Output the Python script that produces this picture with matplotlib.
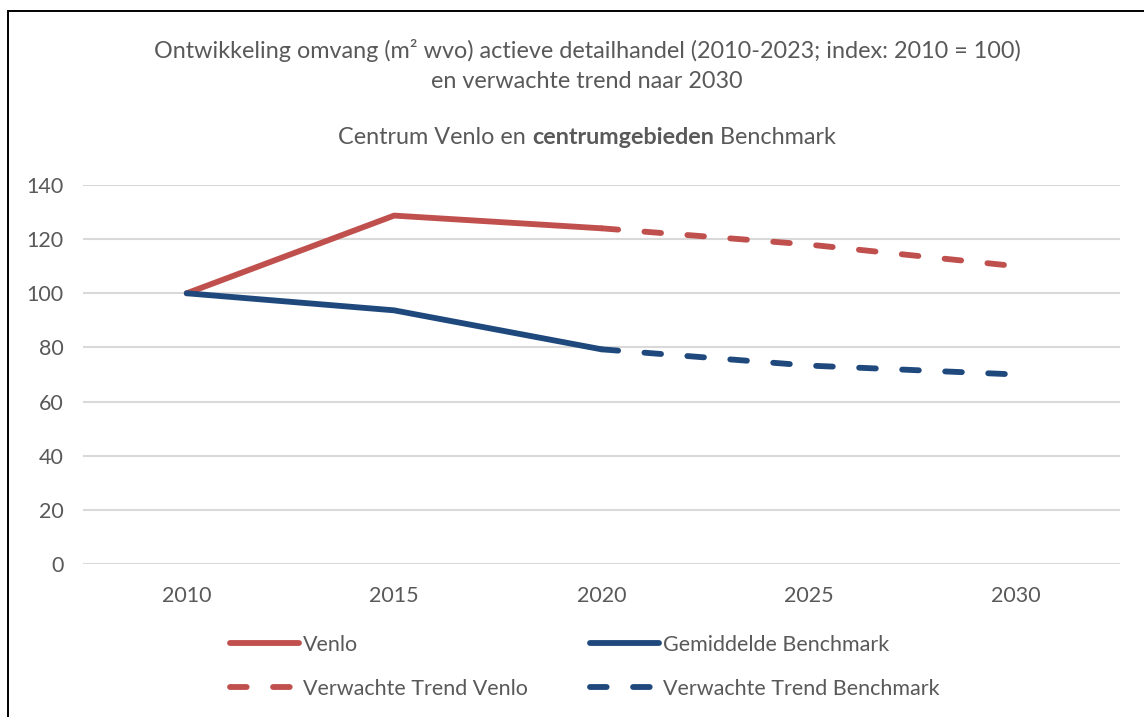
import matplotlib
matplotlib.use('Agg')
import matplotlib.pyplot as plt
from matplotlib.lines import Line2D
from matplotlib.patches import Rectangle

# data
years = ['2010', '2015', '2020', '2025', '2030']
venlo = [100, 128.7, 124.0]
benchmark = [100, 93.7, 79.3]
trend_venlo = [124.0, 118.0, 110.0]
trend_benchmark = [79.3, 73.3, 70.0]

red = '#C0504D'
blue = '#1F497D'
grey = '#595959'

plt.rcParams['font.family'] = ['Lato', 'DejaVu Sans']
plt.rcParams['lines.scale_dashes'] = False

W, H = 1144, 717
fig = plt.figure(figsize=(W / 100, H / 100), dpi=100)

# chart border (black frame, partly cut off at right/bottom)
fig.patches.append(Rectangle((8 / W, -0.1), 1.2, (H - 11) / H + 0.1,
                             transform=fig.transFigure, fill=False,
                             edgecolor='black', linewidth=1.4))

ax = fig.add_axes([83 / W, (H - 564) / H, (1120 - 83) / W, (564 - 185) / H])
x = list(range(len(years)))

lw = 4.2
dash = (0, (12, 19))
ax.plot(x[:3], venlo, color=red, lw=lw, solid_capstyle='round', solid_joinstyle='round', zorder=3)
ax.plot(x[:3], benchmark, color=blue, lw=lw, solid_capstyle='round', solid_joinstyle='round', zorder=3)
ax.plot(x[2:], trend_venlo, color=red, lw=lw, linestyle=dash, dash_capstyle='round', zorder=3)
ax.plot(x[2:], trend_benchmark, color=blue, lw=lw, linestyle=dash, dash_capstyle='round', zorder=3)

ax.set_xlim(-0.5, len(years) - 0.5)
ax.set_ylim(0, 140)
ax.set_yticks(range(0, 141, 20))
ax.set_xticks(x)
ax.set_xticklabels(years)
ax.yaxis.grid(True, color='#D9D9D9', linewidth=1.5)
ax.set_axisbelow(True)
for s in ax.spines.values():
    s.set_visible(False)
ax.tick_params(length=0, labelsize=15.5, colors=grey)
ax.tick_params(axis='y', pad=14)
ax.tick_params(axis='x', pad=16)

# titles
fig.text(587 / W, 1 - 50 / H, 'Ontwikkeling omvang (m² wvo) actieve detailhandel (2010-2023; index: 2010 = 100)',
         ha='center', va='center', fontsize=16.8, color=grey)
fig.text(587 / W, 1 - 81 / H, 'en verwachte trend naar 2030',
         ha='center', va='center', fontsize=16.8, color=grey)

parts = [('Centrum Venlo en ', 'normal'), ('centrumgebieden', 'bold'), (' Benchmark', 'normal')]
renderer = fig.canvas.get_renderer()
texts = []
for s, w in parts:
    t = fig.text(0, 1 - 138 / H, s, ha='left', va='center', fontsize=16.8, color=grey, fontweight=w)
    texts.append(t)
widths = [t.get_window_extent(renderer).width for t in texts]
xpos = 587 - sum(widths) / 2
for t, w in zip(texts, widths):
    t.set_x(xpos / W)
    xpos += w

# legend, two columns placed separately
def handle(c, ls):
    return Line2D([], [], color=c, lw=lw, linestyle=ls, solid_capstyle='round', dash_capstyle='round')

leg_kw = dict(loc='upper left', frameon=False, fontsize=15.5, handlelength=3.2,
              handletextpad=0.2, labelspacing=1.1, labelcolor=grey,
              borderaxespad=0, borderpad=0)
leg1 = fig.legend([handle(red, '-'), handle(red, dash)],
                  ['Venlo', 'Verwachte Trend Venlo'],
                  bbox_to_anchor=(230 / W, 1 - 635 / H), **leg_kw)
leg2 = fig.legend([handle(blue, '-'), handle(blue, dash)],
                  ['Gemiddelde Benchmark', 'Verwachte Trend Benchmark'],
                  bbox_to_anchor=(590 / W, 1 - 635 / H), **leg_kw)

fig.savefig('out.png', dpi=100, facecolor='white')
